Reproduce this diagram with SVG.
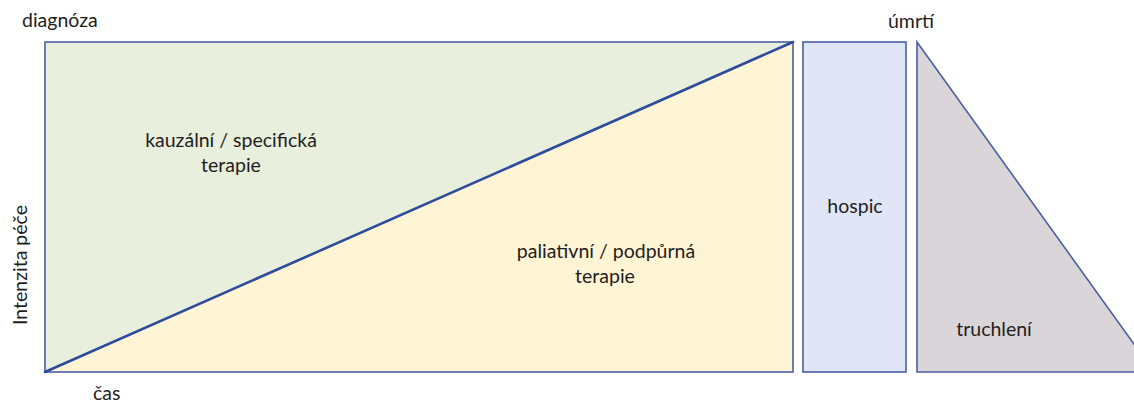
<svg xmlns="http://www.w3.org/2000/svg" width="1134" height="403" viewBox="0 0 1134 403">
<style>
text{font-family:Lato,"Open Sans","Liberation Sans",sans-serif;font-size:19.5px;fill:#1e1e1e}
.c{text-anchor:middle}
.box{stroke:#4a5fa6;stroke-width:1.6}
.diag{stroke:#2e4b9c;stroke-width:2.6;fill:none;stroke-linecap:round}
</style>
<rect width="1134" height="403" fill="#ffffff"/>
<g id="kauzalni">
<polygon points="45,42 793,42 45,372" fill="#e9efdd"/>
<text class="c" x="231" y="147">kauzální / specifická</text>
<text class="c" x="231" y="172">terapie</text>
</g>
<g id="paliativni">
<polygon points="793,42 793,372 45,372" fill="#fff4d4"/>
<text class="c" x="606" y="258">paliativní / podpůrná</text>
<text class="c" x="605" y="283">terapie</text>
</g>
<g id="frame">
<rect class="box" x="45" y="42" width="748" height="330" fill="none"/>
</g>
<g id="hospic">
<rect class="box" x="803" y="42" width="103" height="330" fill="#e0e6f6"/>
<text class="c" x="855" y="213">hospic</text>
</g>
<g id="truchleni">
<polygon class="box" points="917,42 1154,372 917,372" fill="#d9d5d8"/>
<text class="c" x="994" y="336">truchlení</text>
</g>
<g id="connectors">
<line class="diag" x1="45" y1="372" x2="793" y2="42"/>
</g>
<g id="labels">
<text x="22" y="27">diagnóza</text>
<text x="888" y="28">úmrtí</text>
<text x="93" y="400">čas</text>
<text class="c" transform="translate(27,265) rotate(-90)">Intenzita péče</text>
</g>
</svg>
